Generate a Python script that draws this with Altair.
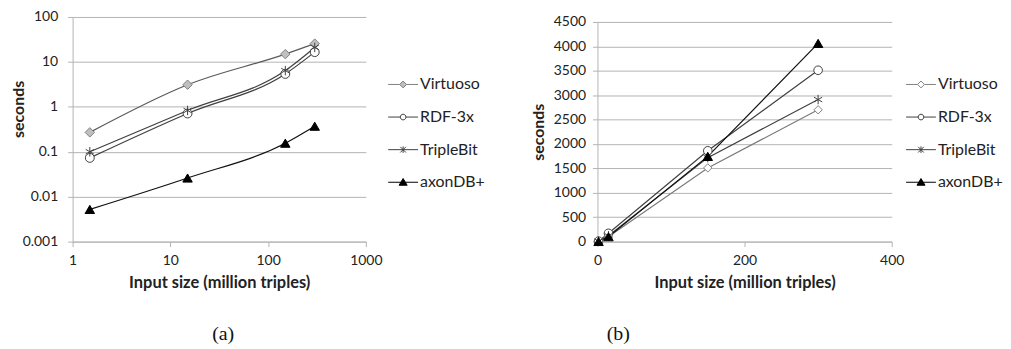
import altair as alt
import pandas as pd

# ---------------- data ----------------
series = ["Virtuoso", "RDF-3x", "TripleBit", "axonDB+"]
input_sizes = [1.5, 15, 150, 300]

a_virtuoso = [0.27, 3.1, 14.9, 25.5]
a_rdf3x = [0.073, 0.71, 5.4, 16.5]
a_triplebit = [0.10, 0.83, 6.4, 21.0]
a_axondb = [0.0052, 0.026, 0.155, 0.37]

b_virtuoso = [5, 100, 1510, 2700]
b_rdf3x = [10, 170, 1860, 3510]
b_triplebit = [8, 120, 1720, 2910]
b_axondb = [3, 100, 1745, 4060]

log_x_ticks = [1, 10, 100, 1000]
log_y_ticks = [0.001, 0.01, 0.1, 1, 10, 100]
lin_x_ticks = [0, 200, 400]
lin_y_ticks = [0, 500, 1000, 1500, 2000, 2500, 3000, 3500, 4000, 4500]
captions = ["(a)", "(b)"]
x_title = "Input size (million triples)"
y_title = "seconds"


def build(values_by_series):
    rows = []
    for s, vals in zip(series, values_by_series):
        for x, v in zip(input_sizes, vals):
            rows.append({"series": s, "size": x, "seconds": v})
    return pd.DataFrame(rows)


df_a = build([a_virtuoso, a_rdf3x, a_triplebit, a_axondb])
df_b = build([b_virtuoso, b_rdf3x, b_triplebit, b_axondb])

# ---------------- styles ----------------
FONT = "Lato"
GRID = "#b3b3b3"
TEXT = "#222222"
ASTERISK = "M0,-1V1M-0.87,-0.5L0.87,0.5M-0.87,0.5L0.87,-0.5"
# legend symbols: a 30px line with a small marker, all inside the unit box
LEG_SIZE = 900
LEG_PATHS = [
    "M-1,0H-0.23M0.23,0H1M-0.23,0L0,-0.23L0.23,0L0,0.23Z",
    "M-1,0H-0.19M0.19,0H1M-0.19,0A0.19,0.19,0,1,0,0.19,0A0.19,0.19,0,1,0,-0.19,0Z",
    "M-1,0H1M0,-0.22V0.22M-0.19,-0.19L0.19,0.19M-0.19,0.19L0.19,-0.19",
    "M-1,0H1M0,-0.25L0.27,0.2L-0.27,0.2Z",
]

styles_a = {
    "Virtuoso": dict(line="#595959", shape="diamond", fill="#bfbfbf", stroke="#7f7f7f", size=90),
    "RDF-3x": dict(line="#404040", shape="circle", fill="white", stroke="#404040", size=80),
    "TripleBit": dict(line="#404040", shape=ASTERISK, fill="none", stroke="#404040", size=90),
    "axonDB+": dict(line="#111111", shape="triangle-up", fill="black", stroke="black", size=90),
}
styles_b = {
    "Virtuoso": dict(line="#7a7a7a", shape="diamond", fill="white", stroke="#808080", size=70),
    "RDF-3x": dict(line="#404040", shape="circle", fill="white", stroke="#404040", size=75),
    "TripleBit": dict(line="#404040", shape=ASTERISK, fill="none", stroke="#404040", size=90),
    "axonDB+": dict(line="#111111", shape="triangle-up", fill="black", stroke="black", size=90),
}


def axis_common(**kw):
    return dict(
        labelFont=FONT, labelFontSize=14, labelColor=TEXT,
        titleFont=FONT, titleFontWeight="bold", titleColor=TEXT,
        domainColor=GRID, tickColor=GRID, gridColor=GRID, tickSize=5,
        labelFlush=False, labelOverlap=False, **kw,
    )


def panel(df, xs, ys, xax, yax, interp, styles, caption, legend_x, caption_dx, width, height):
    X = alt.X("size:Q", scale=xs, axis=xax)
    Y = alt.Y("seconds:Q", scale=ys, axis=yax)
    base = alt.Chart(df)
    layers = []
    for s in series:
        st = styles[s]
        layers.append(
            base.transform_filter(alt.datum.series == s)
            .mark_line(stroke=st["line"], strokeWidth=1.2, interpolate=interp)
            .encode(x=X, y=Y)
        )
    for s in series:
        st = styles[s]
        layers.append(
            base.transform_filter(alt.datum.series == s)
            .mark_point(shape=st["shape"], size=st["size"], filled=True, fill=st["fill"],
                        stroke=st["stroke"], strokeWidth=1, opacity=1)
            .encode(x=X, y=Y)
        )
    leg = alt.Legend(
        orient="none", legendX=legend_x, legendY=52.4, padding=0,
        labelFont=FONT, labelFontSize=16, labelColor=TEXT, labelOffset=1.5,
        rowPadding=8.8, symbolSize=LEG_SIZE, symbolStrokeWidth=1,
    )
    fills = [styles[s]["fill"] for s in series]
    strokes = [styles[s]["stroke"] for s in series]
    layers.append(
        base.transform_filter("false")
        .mark_point(filled=True, size=LEG_SIZE, strokeWidth=1, opacity=1)
        .encode(
            x=X, y=Y,
            shape=alt.Shape("series:N", scale=alt.Scale(domain=series, range=LEG_PATHS), legend=leg, title=None),
            fill=alt.Fill("series:N", scale=alt.Scale(domain=series, range=fills), legend=leg, title=None),
            stroke=alt.Stroke("series:N", scale=alt.Scale(domain=series, range=strokes), legend=leg, title=None),
        )
    )
    return alt.layer(*layers).properties(
        width=width, height=height,
        title=alt.TitleParams(caption, orient="bottom", anchor="middle", frame="group",
                              font="Liberation Serif", fontSize=20, fontWeight="normal",
                              color="#111111", offset=33, dx=caption_dx),
    )


chart_a = panel(
    df_a,
    alt.Scale(type="log", domain=[1, 1000]),
    alt.Scale(type="log", domain=[0.001, 100]),
    alt.Axis(**axis_common(values=log_x_ticks, format="~g", grid=False, title=x_title,
                           titleFontSize=16.5, labelPadding=7, titlePadding=7)),
    alt.Axis(**axis_common(values=log_y_ticks, format="~g", grid=True, title=y_title,
                           titleFontSize=16, labelPadding=10, titlePadding=2,
                           minExtent=44, maxExtent=44, titleY=92.5)),
    "monotone", styles_a, captions[0], 317, 4, 295, 226,
)

chart_b = panel(
    df_b,
    alt.Scale(domain=[0, 400]),
    alt.Scale(domain=[0, 4500], range=[226, 5]),
    alt.Axis(**axis_common(values=lin_x_ticks, format="d", grid=False, title=x_title,
                           titleFontSize=16.5, labelPadding=7, titlePadding=7)),
    alt.Axis(**axis_common(values=lin_y_ticks, format="d", grid=True, title=y_title,
                           titleFontSize=16, labelPadding=7, titlePadding=8,
                           minExtent=43, maxExtent=43)),
    "linear", styles_b, captions[1], 310, -127, 296, 226,
)

chart = (
    alt.hconcat(chart_a, chart_b, spacing=46)
    .resolve_scale(shape="independent", fill="independent", stroke="independent")
    .resolve_legend(shape="independent", fill="independent", stroke="independent")
    .properties(padding={"left": 3, "top": 1, "right": 0, "bottom": 0}, background="white")
    .configure_view(stroke=None)
)

chart.save("out.html", embed_options={"renderer": "svg", "actions": False})
